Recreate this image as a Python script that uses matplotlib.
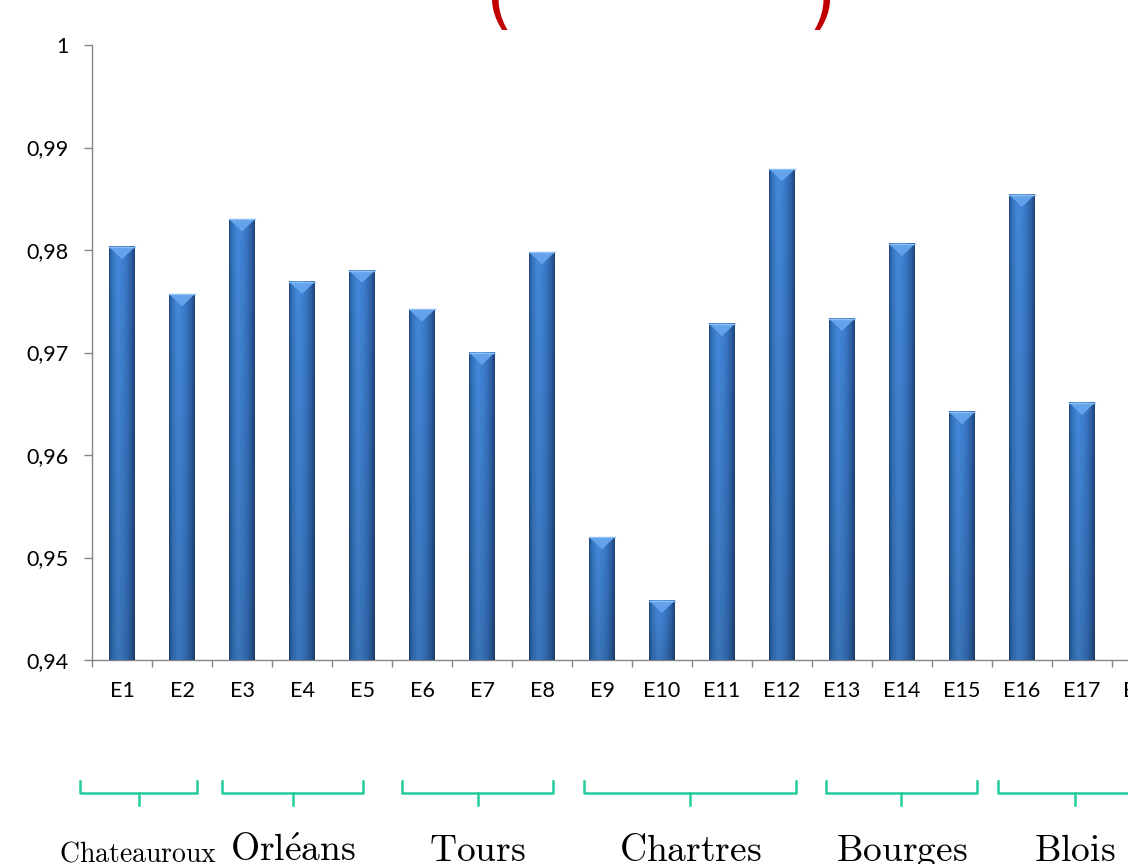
import matplotlib
matplotlib.use('Agg')
import matplotlib.pyplot as plt
import matplotlib.transforms as mtransforms
import numpy as np
from matplotlib.colors import LinearSegmentedColormap
from matplotlib.patches import Polygon
from matplotlib.lines import Line2D

# données
stations = ['E1', 'E2', 'E3', 'E4', 'E5', 'E6', 'E7', 'E8', 'E9', 'E10',
            'E11', 'E12', 'E13', 'E14', 'E15', 'E16', 'E17', 'E18']
valeurs = [0.9803, 0.9757, 0.9830, 0.9769, 0.9780, 0.9742, 0.9700, 0.9798,
           0.9520, 0.9458, 0.9728, 0.9879, 0.9733, 0.9806, 0.9642, 0.9854,
           0.9651, 0.9779]
villes = ['Chateauroux', 'Orléans', 'Tours', 'Chartres', 'Bourges', 'Blois']
premiere_station = [0, 2, 5, 8, 12, 15]
derniere_station = [1, 4, 7, 11, 14, 17]
y_ticks = [0.94, 0.95, 0.96, 0.97, 0.98, 0.99, 1.0]
y_labels = ['0,94', '0,95', '0,96', '0,97', '0,98', '0,99', '1']

plt.rcParams['font.family'] = ['Lato', 'DejaVu Sans']
plt.rcParams['mathtext.fontset'] = 'cm'

W, H = 1128, 864
fig = plt.figure(figsize=(W / 100, H / 100), dpi=100)
# l'axe déborde à droite comme sur l'original (E18 coupée)
ax = fig.add_axes([92 / W, 204 / H, 1080 / W, 615 / H])

y_min = y_ticks[0]
xs = np.arange(len(stations))
largeur = 0.43

# dégradé des barres
cmap = LinearSegmentedColormap.from_list('barre', [
    (0.0, '#1d4476'), (0.08, '#3170b8'), (0.35, '#458adb'),
    (0.62, '#3b7bc9'), (0.88, '#2c5fa3'), (1.0, '#1d4272')])
horiz = cmap(np.linspace(0, 1, 64))[:, :3]
vert = np.linspace(1.0, 0.86, 128)[:, None, None]
grad = np.clip(horiz[None, :, :] * vert, 0, 1)

ax.bar(xs, np.array(valeurs) - y_min, bottom=y_min, width=largeur,
       color='#3a78c6', zorder=2)
for x, v in zip(xs, valeurs):
    x0, x1 = x - largeur / 2, x + largeur / 2
    ax.imshow(grad, extent=[x0, x1, y_min, v], aspect='auto',
              interpolation='bicubic', zorder=3)
    ax.add_patch(Polygon([(x0, v), (x1, v), (x, v - 0.0012)],
                         closed=True, facecolor='#64a2ec', edgecolor='none',
                         zorder=4))
    ax.plot([x0, x1], [v, v], color='#8cc0f5', lw=1, zorder=5)

ax.set_xlim(-0.5, len(stations) - 0.5)
ax.set_ylim(y_min, 1.0)

for s in ['top', 'right']:
    ax.spines[s].set_visible(False)
for s in ['left', 'bottom']:
    ax.spines[s].set_color('#868686')
    ax.spines[s].set_linewidth(1.0)

ax.set_yticks(y_ticks)
ax.set_yticklabels(y_labels)
ax.tick_params(axis='y', length=6, width=1, color='#868686', pad=11,
               labelsize=15.5)
ax.set_xticks(xs)
ax.set_xticklabels(stations)
ax.set_xticks(np.arange(-0.5, len(stations)), minor=True)
ax.tick_params(axis='x', which='major', length=0, pad=15, labelsize=15.5)
ax.tick_params(axis='x', which='minor', length=5, width=1, color='#868686')

# accolades et noms des villes
trans = mtransforms.blended_transform_factory(ax.transData, fig.transFigure)
y_haut, y_mil, y_bas = 1 - 781 / H, 1 - 793 / H, 1 - 805 / H
vert_acc = '#22cc9c'
marge_gauche = [0.7, 0.33, 0.33, 0.3, 0.27, 0.4]
marge_droite = [0.25, 0.02, 0.18, 0.23, 0.25, 0.17]
taille_ville = {'Chateauroux': 20}
for i, nom in enumerate(villes):
    g = premiere_station[i] - marge_gauche[i]
    d = derniere_station[i] + marge_droite[i]
    c = (g + d) / 2
    ax.add_line(Line2D([g, g, d, d], [y_haut, y_mil, y_mil, y_haut],
                       transform=trans, color=vert_acc, lw=1.8,
                       clip_on=False, solid_joinstyle='round'))
    ax.add_line(Line2D([c, c], [y_mil, y_bas], transform=trans,
                       color=vert_acc, lw=1.8, clip_on=False))
    texte = r'$\mathrm{' + nom.replace('é', r'\acute{e}') + '}$'
    ax.text(c, 3 / H, texte, transform=trans, ha='center', va='baseline',
            fontsize=taille_ville.get(nom, 27), color='black', clip_on=False)

# titre rouge coupé en haut de l'image
fig.text(500 / W, 1 - 21 / H, '(', color='#c00000', fontsize=50,
         family='DejaVu Sans', ha='center', va='baseline')
fig.text(822 / W, 1 - 21 / H, ')', color='#c00000', fontsize=50,
         family='DejaVu Sans', ha='center', va='baseline')

fig.savefig('out.png', dpi=100)
